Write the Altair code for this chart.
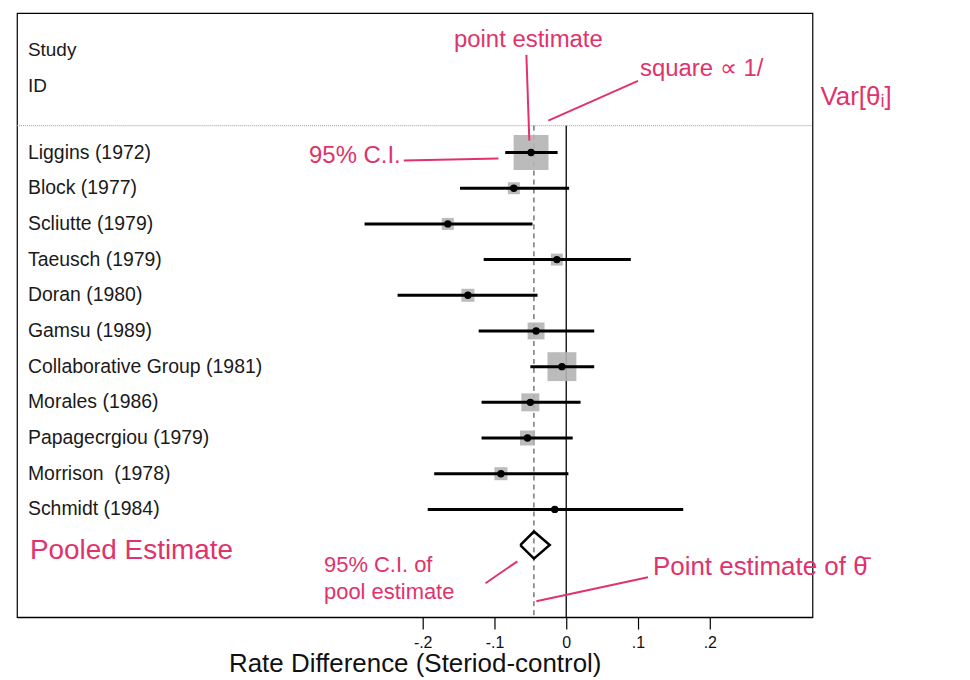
import json
import altair as alt
import pandas as pd

# ---- data ----
studies = ["Liggins (1972)", "Block (1977)", "Scliutte (1979)", "Taeusch (1979)",
           "Doran (1980)", "Gamsu (1989)", "Collaborative Group (1981)",
           "Morales (1986)", "Papagecrgiou (1979)", "Morrison\u00a0 (1978)", "Schmidt (1984)"]
estimates = [-0.049, -0.073, -0.165, -0.013, -0.137, -0.042, -0.006, -0.050, -0.054, -0.091, -0.016]
ci_low = [-0.085, -0.148, -0.281, -0.115, -0.235, -0.122, -0.050, -0.118, -0.118, -0.184, -0.193]
ci_high = [-0.012, 0.004, -0.047, 0.090, -0.040, 0.039, 0.039, 0.020, 0.009, 0.003, 0.163]
weights = [33.1, 3.9, 3.9, 3.9, 4.6, 7.8, 22.7, 8.8, 6.1, 4.6, 0.7]

pooled_est = -0.045
pooled_low = -0.064
pooled_high = -0.023

tick_values = [-0.2, -0.1, 0, 0.1, 0.2]
tick_labels = ["-.2", "-.1", "0", ".1", ".2"]

FONT = "Liberation Sans"
RED = "#e0336c"

df = pd.DataFrame({"study": studies, "est": estimates, "lo": ci_low, "hi": ci_high,
                   "w": weights, "row": list(range(len(studies)))})

prow = len(studies)
h = 0.38
diamond = pd.DataFrame({
    "x": [pooled_low, pooled_est, pooled_high, pooled_est, pooled_low],
    "row": [prow, prow - h, prow, prow + h, prow],
    "o": [0, 1, 2, 3, 4],
})
ref_lines = pd.DataFrame({"x": [0.0, pooled_est], "kind": ["zero", "pooled"]})

XS = alt.Scale(domain=[-0.7653, 0.3431], nice=False, zero=False)
YS = alt.Scale(domain=[-3.91, 13.02], reverse=True, nice=False, zero=False)

label_expr = json.dumps(tick_labels) + "[round(datum.value*10)+2]"
xaxis = alt.Axis(values=tick_values, labelExpr=label_expr,
                 title="Rate Difference (Steriod-control)",
                 titleFontSize=26, titleFont=FONT, titleFontWeight="normal",
                 titleColor="#111111", titlePadding=1,
                 labelFontSize=16, labelFont=FONT, labelColor="#111111",
                 labelPadding=5, labelFlush=False,
                 tickSize=12, tickColor="black", tickWidth=1.2,
                 domainColor="black", domainWidth=1.2, grid=False)


def X(field):
    return alt.X(field, scale=XS, axis=xaxis)


def Y(field):
    return alt.Y(field, scale=YS, axis=None)


one = pd.DataFrame({"a": [0]})

ci = alt.Chart(df).mark_rule(strokeWidth=3, color="black").encode(
    x=X("lo:Q"), x2="hi:Q", y=Y("row:Q"))

squares = alt.Chart(df).mark_square(color="#b4b4b4", opacity=0.9).encode(
    x=X("est:Q"), y=Y("row:Q"),
    size=alt.Size("w:Q", scale=alt.Scale(domain=[0, max(weights)], range=[0, 1225]), legend=None),
)

dots = alt.Chart(df).mark_circle(size=55, color="black", opacity=1).encode(
    x=X("est:Q"), y=Y("row:Q"))

labels = alt.Chart(df).mark_text(align="left", baseline="middle", fontSize=19.5,
                                 font=FONT, color="#1a1a1a").encode(
    x=alt.value(11), y=Y("row:Q"), text="study:N")

zero_line = alt.Chart(ref_lines).transform_filter("datum.kind == 'zero'").mark_rule(
    color="black", strokeWidth=1.3).encode(
    x=X("x:Q"), y=alt.value(113), y2=alt.value(606))

pooled_line = alt.Chart(ref_lines).transform_filter("datum.kind == 'pooled'").mark_rule(
    color="#333333", strokeWidth=1, strokeDash=[5, 4]).encode(
    x=X("x:Q"), y=alt.value(113), y2=alt.value(606))

separator = alt.Chart(one).mark_rule(color="#9a9a9a", strokeWidth=1, strokeDash=[1, 1]).encode(
    x=alt.value(0), x2=alt.value(798), y=alt.value(113))

diamond_layer = alt.Chart(diamond).mark_line(color="black", strokeWidth=2.5).encode(
    x=X("x:Q"), y=Y("row:Q"), order="o:Q")


def txt(s, x, y, size=19, color="#1a1a1a", align="left"):
    return alt.Chart(one).mark_text(text=s, align=align, baseline="middle",
                                    fontSize=size, font=FONT, color=color).encode(
        x=alt.value(x), y=alt.value(y))


def arrow(x1, y1, x2, y2):
    return alt.Chart(one).mark_rule(color=RED, strokeWidth=2).encode(
        x=alt.value(x1), y=alt.value(y1), x2=alt.value(x2), y2=alt.value(y2))


headers = [txt("Study", 11, 37), txt("ID", 11, 73)]

notes = [
    txt("point estimate", 513, 27, 24, RED, "center"),
    txt("square \u221d 1/", 625, 56, 24, RED),
    txt("Var[\u03b8\u1d62]", 806, 84, 26, RED),
    txt("95% C.I.", 293, 143, 24, RED),
    txt("Pooled Estimate", 13, 540, 28, RED),
    txt("95% C.I. of", 308, 554, 22, RED),
    txt("pool estimate", 308, 581, 22, RED),
    txt("Point estimate of \u03b8\u0304", 638, 556, 26, RED),
    arrow(511, 42, 514, 128),
    arrow(623, 68, 533, 108),
    arrow(388, 148, 483, 146),
    arrow(633, 566, 521, 590),
    arrow(470, 572, 502, 550),
]

chart = alt.layer(
    separator, zero_line, pooled_line, squares, ci, dots, diamond_layer, labels,
    *headers, *notes
).properties(
    width=798, height=606,
    padding={"left": 9, "top": 4, "right": 150, "bottom": 62},
    autosize=alt.AutoSizeParams(type="none"),
    background="white",
).configure_view(stroke="black", strokeWidth=1.2)

chart.save("out.html", embed_options={"renderer": "svg", "actions": False})
